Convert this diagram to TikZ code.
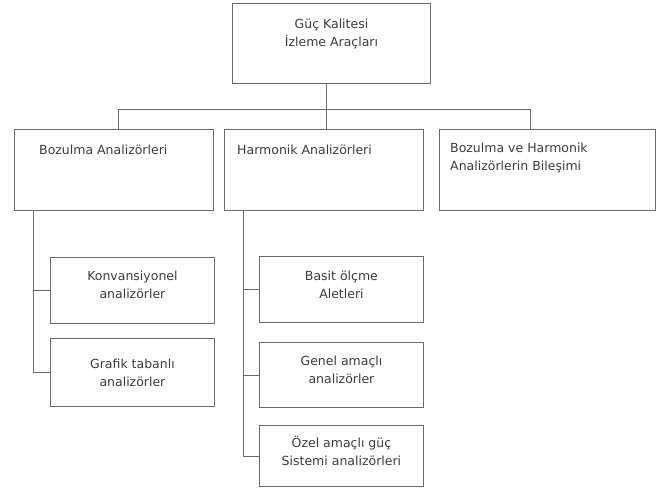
\documentclass[tikz,border=0pt]{standalone}
\usepackage{fontspec}
\setmainfont{DejaVu Sans}
\usetikzlibrary{calc}
\definecolor{linegray}{HTML}{6A6A6A}
\definecolor{textgray}{HTML}{3C3C3C}
\begin{document}
\begin{tikzpicture}[x=1pt,y=-1pt,
  box/.style={draw=linegray, line width=0.9pt, fill=white, inner sep=0pt, anchor=north west},
  txt/.style={font=\fontsize{12.5}{18}\selectfont, text=textgray, inner sep=0pt},
  ctxt/.style={txt, align=center},
  ltxt/.style={txt, align=left, anchor=north west},
  conn/.style={draw=linegray, line width=0.9pt}]
\useasboundingbox[fill=white] (0,0) rectangle (662,495);

% boxes
\node[box, minimum width=198pt, minimum height=80pt] (top) at (232,3) {};
\node[box, minimum width=199pt, minimum height=81pt] (b1) at (14,129) {};
\node[box, minimum width=199pt, minimum height=81pt] (b2) at (224,129) {};
\node[box, minimum width=216pt, minimum height=81pt] (b3) at (439,129) {};
\node[box, minimum width=164pt, minimum height=66pt] (k1) at (50,257) {};
\node[box, minimum width=164pt, minimum height=68pt] (k2) at (50,338) {};
\node[box, minimum width=164pt, minimum height=66pt] (h1) at (259,256) {};
\node[box, minimum width=164pt, minimum height=65pt] (h2) at (259,342) {};
\node[box, minimum width=164pt, minimum height=61pt] (h3) at (259,425) {};

% texts
\node[ctxt, anchor=north] (ttop) at ($(top.north)+(0,16)$) {Güç Kalitesi\\İzleme Araçları};
\node[ltxt] (tb1) at ($(b1.north west)+(25,16)$) {Bozulma Analizörleri};
\node[ltxt] (tb2) at ($(b2.north west)+(13,16)$) {Harmonik Analizörleri};
\node[ltxt] (tb3) at ($(b3.north west)+(11,14)$) {Bozulma ve Harmonik\\Analizörlerin Bileşimi};
\node[ctxt] (tk1) at ($(k1.center)+(0,-6)$) {Konvansiyonel\\analizörler};
\node[ctxt] (tk2) at ($(k2.center)+(0,0)$) {Grafik tabanlı\\analizörler};
\node[ctxt] (th1) at ($(h1.center)+(0,-5)$) {Basit ölçme\\Aletleri};
\node[ctxt] (th2) at ($(h2.center)+(0,-5)$) {Genel amaçlı\\analizörler};
\node[ctxt] (th3) at ($(h3.center)+(0,-5)$) {Özel amaçlı güç\\Sistemi analizörleri};

% connectors
\coordinate (bus) at (326,109);
\coordinate (j1) at (118,109);
\coordinate (j3) at (530,109);
\coordinate (v1) at (33,0);
\coordinate (v2) at (243,0);
\draw[conn] (top.south -| bus) -- (bus);
\draw[conn] (j1) -- (j3);
\draw[conn] (j1) -- (j1 |- b1.north);
\draw[conn] (bus) -- (bus |- b2.north);
\draw[conn] (j3) -- (j3 |- b3.north);
\draw[conn] (v1 |- b1.south) |- (k2.west);
\draw[conn] (v1 |- k1.west) -- (k1.west);
\draw[conn] (v2 |- b2.south) |- (h3.west);
\draw[conn] (v2 |- h1.west) -- (h1.west);
\draw[conn] (v2 |- h2.west) -- (h2.west);
\end{tikzpicture}
\end{document}
